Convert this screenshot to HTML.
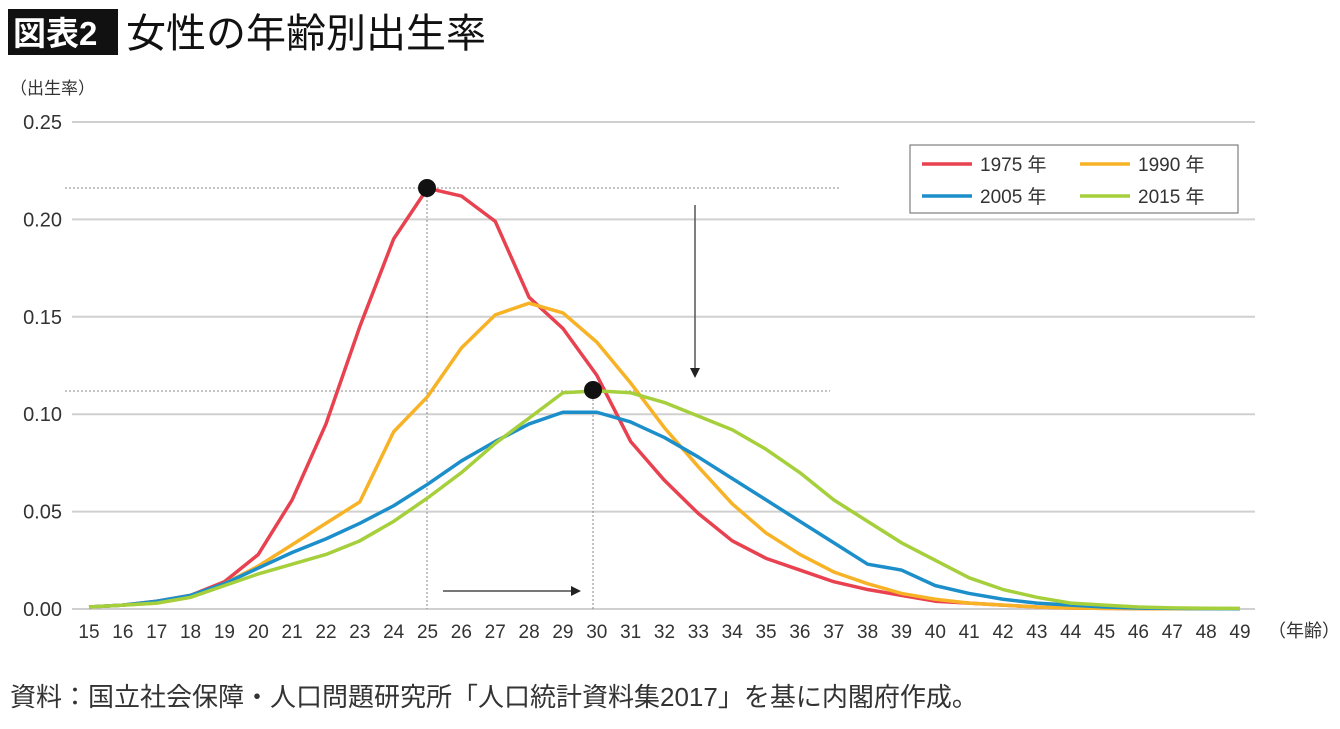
<!DOCTYPE html>
<html><head><meta charset="utf-8"><style>
body{margin:0;background:#fff;width:1340px;height:724px;overflow:hidden;font-family:"Liberation Sans","Noto Sans CJK JP",sans-serif;}
</style></head><body>
<svg width="1340" height="724" viewBox="0 0 1340 724" font-family="Liberation Sans, Noto Sans CJK JP, sans-serif">
<rect x="8" y="9" width="110" height="46" fill="#111"/>
<text x="13" y="45" font-size="33" fill="#fff" font-weight="bold">図表2</text>
<text x="126" y="47" font-size="40" fill="#111">女性の年齢別出生率</text>
<text x="10" y="94" font-size="17" fill="#333">（出生率）</text>
<g id="grid"></g>
<g id="guides" stroke="#888" stroke-width="1" stroke-dasharray="2,2" fill="none">
<line x1="65" y1="188" x2="840" y2="188"/>
<line x1="65" y1="391" x2="830" y2="391"/>
<line x1="427" y1="188" x2="427" y2="609"/>
<line x1="593" y1="391" x2="593" y2="609"/>
</g>
<g><line x1="695" y1="205" x2="695" y2="368" stroke="#555" stroke-width="1.5"/><path d="M690,368 L700,368 L695,378 Z" fill="#222"/></g>
<g><line x1="443" y1="591" x2="572" y2="591" stroke="#777" stroke-width="2"/><path d="M571,586 L581,591 L571,596 Z" fill="#222"/></g>
<g id="series"></g>
<g id="xlabels" font-size="19" fill="#333" text-anchor="middle"></g>
<text x="1268" y="637" font-size="18" fill="#333">（年齢）</text>
<g>
<rect x="910" y="145" width="328" height="68" fill="#fff" stroke="#666" stroke-width="1"/>
<g><line x1="922" y1="164" x2="972" y2="164" stroke="#e8414f" stroke-width="3.5"/><text x="980" y="171" font-size="19" fill="#333">1975 年</text></g>
<g><line x1="1080" y1="164" x2="1130" y2="164" stroke="#f7b226" stroke-width="3.5"/><text x="1138" y="171" font-size="19" fill="#333">1990 年</text></g>
<g><line x1="922" y1="196" x2="972" y2="196" stroke="#1c8fca" stroke-width="3.5"/><text x="980" y="203" font-size="19" fill="#333">2005 年</text></g>
<g><line x1="1080" y1="196" x2="1130" y2="196" stroke="#a6cf3c" stroke-width="3.5"/><text x="1138" y="203" font-size="19" fill="#333">2015 年</text></g>
</g>
<circle cx="427" cy="188" r="9" fill="#111"/>
<circle cx="593" cy="390" r="9" fill="#111"/>
<text x="10" y="706" font-size="26" fill="#333">資料：国立社会保障・人口問題研究所「人口統計資料集2017」を基に内閣府作成。</text>
</svg>
<script>
const ages=[15,16,17,18,19,20,21,22,23,24,25,26,27,28,29,30,31,32,33,34,35,36,37,38,39,40,41,42,43,44,45,46,47,48,49];
const yTicks=[0,0.05,0.10,0.15,0.20,0.25];
const yTickLabels=["0.00","0.05","0.10","0.15","0.20","0.25"];
const s1975=[0.001,0.002,0.004,0.007,0.014,0.028,0.056,0.095,0.145,0.19,0.216,0.212,0.199,0.160,0.144,0.12,0.086,0.066,0.049,0.035,0.026,0.020,0.014,0.010,0.007,0.004,0.003,0.002,0.001,0.0005,0.0003,0.0002,0.0001,0.0001,0.0001];
const s1990=[0.001,0.002,0.003,0.006,0.013,0.022,0.033,0.044,0.055,0.091,0.109,0.134,0.151,0.157,0.152,0.137,0.116,0.093,0.073,0.054,0.039,0.028,0.019,0.013,0.008,0.005,0.003,0.002,0.001,0.0005,0.0003,0.0002,0.0001,0.0001,0.0001];
const s2005=[0.001,0.002,0.004,0.007,0.013,0.021,0.029,0.036,0.044,0.053,0.064,0.076,0.086,0.095,0.101,0.101,0.096,0.088,0.078,0.067,0.056,0.045,0.034,0.023,0.020,0.012,0.008,0.005,0.003,0.002,0.001,0.0005,0.0003,0.0002,0.0001];
const s2015=[0.001,0.002,0.003,0.006,0.012,0.018,0.023,0.028,0.035,0.045,0.057,0.070,0.085,0.098,0.111,0.112,0.111,0.106,0.099,0.092,0.082,0.070,0.056,0.045,0.034,0.025,0.016,0.010,0.006,0.003,0.002,0.001,0.0006,0.0004,0.0003];
const NS="http://www.w3.org/2000/svg";
const xS=a=>89+(a-15)*(1240-89)/34;
const yS=v=>609-v*(609-122)/0.25;
const grid=document.getElementById('grid');
yTicks.forEach((t,i)=>{
 const l=document.createElementNS(NS,'line');
 l.setAttribute('x1',72);l.setAttribute('x2',1255);l.setAttribute('y1',yS(t));l.setAttribute('y2',yS(t));
 l.setAttribute('stroke','#d0d0d0');l.setAttribute('stroke-width','2');
 
 
 grid.appendChild(l);
 const tx=document.createElementNS(NS,'text');
 tx.setAttribute('x',62);tx.setAttribute('y',yS(t)+7);tx.setAttribute('text-anchor','end');tx.setAttribute('font-size','20');tx.setAttribute('fill','#333');
 tx.textContent=yTickLabels[i];
 
 
 grid.appendChild(tx);
});
const xl=document.getElementById('xlabels');
ages.forEach(a=>{
 const tx=document.createElementNS(NS,'text');
 tx.setAttribute('x',xS(a));tx.setAttribute('y',638);tx.textContent=a;
 
 
 xl.appendChild(tx);
});
const sg=document.getElementById('series');
[[s1975,'#e8414f','line-1975'],[s1990,'#f7b226','line-1990'],[s2005,'#1c8fca','line-2005'],[s2015,'#a6cf3c','line-2015']].forEach(([d,c,n])=>{
 const p=document.createElementNS(NS,'polyline');
 p.setAttribute('points',d.map((v,i)=>xS(ages[i])+','+yS(v)).join(' '));
 p.setAttribute('fill','none');p.setAttribute('stroke',c);p.setAttribute('stroke-width','3.5');p.setAttribute('stroke-linejoin','round');
 
 
 sg.appendChild(p);
});
</script>
</body></html>
